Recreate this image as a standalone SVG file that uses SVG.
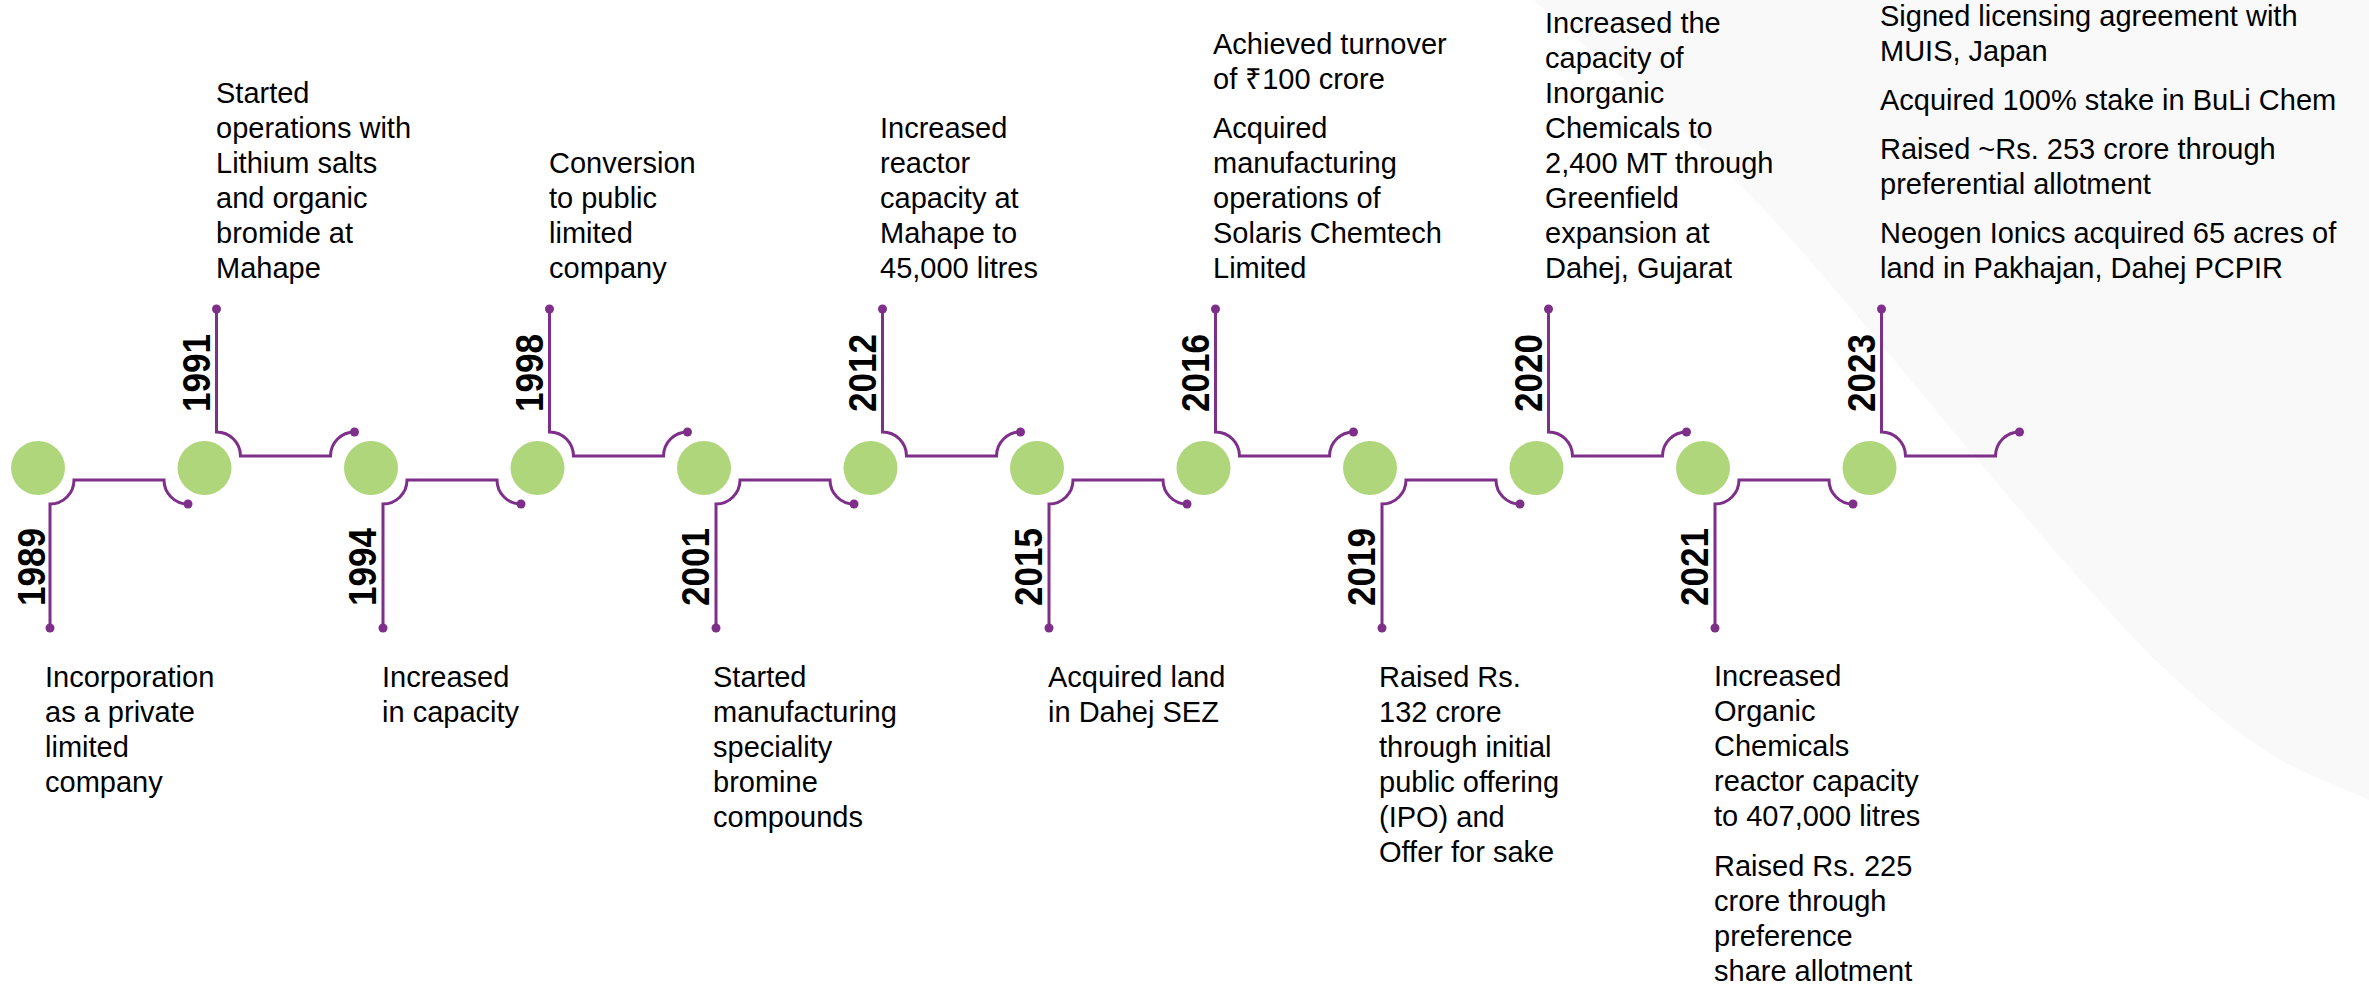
<svg xmlns="http://www.w3.org/2000/svg" width="2369" height="984" viewBox="0 0 2369 984">
<style>
.t{font-family:"Liberation Sans",Arial,sans-serif;font-size:29px;fill:#000}
.y{font-family:"Liberation Sans Narrow","Liberation Sans",Arial,sans-serif;font-size:39px;font-weight:bold;fill:#000}
.c{fill:#b0d67b}
.l{fill:none;stroke:#7e2f8a;stroke-width:3}
.d{fill:#7e2f8a}
</style>
<rect width="2369" height="984" fill="#fff"/>
<path d="M1533 0 C1605 65 1677.3 120 1750 195 C1822.7 270 1915.8 388 1969 450 C2022.2 512 2035.7 529.8 2069 567 C2102.3 604.2 2135.7 642 2169 673 C2202.3 704 2235.7 731.8 2269 753 C2302.3 774.2 2335.7 784.3 2369 800 L2369 0 Z" fill="#f9f9f9"/>
<g id="connectors">
<path class="l" d="M50 628 V504 A24 24 0 0 0 74 480 H164 A24 24 0 0 0 188 504"/>
<path class="l" d="M216.5 309 V432 A24 24 0 0 1 240.5 456 H330.5 A24 24 0 0 1 354.5 432"/>
<path class="l" d="M383 628 V504 A24 24 0 0 0 407 480 H497 A24 24 0 0 0 521 504"/>
<path class="l" d="M549.5 309 V432 A24 24 0 0 1 573.5 456 H663.5 A24 24 0 0 1 687.5 432"/>
<path class="l" d="M716 628 V504 A24 24 0 0 0 740 480 H830 A24 24 0 0 0 854 504"/>
<path class="l" d="M882.5 309 V432 A24 24 0 0 1 906.5 456 H996.5 A24 24 0 0 1 1020.5 432"/>
<path class="l" d="M1049 628 V504 A24 24 0 0 0 1073 480 H1163 A24 24 0 0 0 1187 504"/>
<path class="l" d="M1215.5 309 V432 A24 24 0 0 1 1239.5 456 H1329.5 A24 24 0 0 1 1353.5 432"/>
<path class="l" d="M1382 628 V504 A24 24 0 0 0 1406 480 H1496 A24 24 0 0 0 1520 504"/>
<path class="l" d="M1548.5 309 V432 A24 24 0 0 1 1572.5 456 H1662.5 A24 24 0 0 1 1686.5 432"/>
<path class="l" d="M1715 628 V504 A24 24 0 0 0 1739 480 H1829 A24 24 0 0 0 1853 504"/>
<path class="l" d="M1881.5 309 V432 A24 24 0 0 1 1905.5 456 H1995.5 A24 24 0 0 1 2019.5 432"/>
<g class="d">
<circle cx="50" cy="628" r="4.5"/><circle cx="188" cy="504" r="4.5"/>
<circle cx="216.5" cy="309" r="4.5"/><circle cx="354.5" cy="432" r="4.5"/>
<circle cx="383" cy="628" r="4.5"/><circle cx="521" cy="504" r="4.5"/>
<circle cx="549.5" cy="309" r="4.5"/><circle cx="687.5" cy="432" r="4.5"/>
<circle cx="716" cy="628" r="4.5"/><circle cx="854" cy="504" r="4.5"/>
<circle cx="882.5" cy="309" r="4.5"/><circle cx="1020.5" cy="432" r="4.5"/>
<circle cx="1049" cy="628" r="4.5"/><circle cx="1187" cy="504" r="4.5"/>
<circle cx="1215.5" cy="309" r="4.5"/><circle cx="1353.5" cy="432" r="4.5"/>
<circle cx="1382" cy="628" r="4.5"/><circle cx="1520" cy="504" r="4.5"/>
<circle cx="1548.5" cy="309" r="4.5"/><circle cx="1686.5" cy="432" r="4.5"/>
<circle cx="1715" cy="628" r="4.5"/><circle cx="1853" cy="504" r="4.5"/>
<circle cx="1881.5" cy="309" r="4.5"/><circle cx="2019.5" cy="432" r="4.5"/>
</g>
</g>
<g id="n1989">
<circle class="c" cx="38" cy="468" r="27"/>
<text class="y" transform="translate(45,606) rotate(-90)" textLength="78" lengthAdjust="spacingAndGlyphs">1989</text>
<text class="t" x="45" y="687">Incorporation</text>
<text class="t" x="45" y="722">as a private</text>
<text class="t" x="45" y="757">limited</text>
<text class="t" x="45" y="792">company</text>
</g>
<g id="n1991">
<circle class="c" cx="204.5" cy="468" r="27"/>
<text class="y" transform="translate(209.5,412) rotate(-90)" textLength="78" lengthAdjust="spacingAndGlyphs">1991</text>
<text class="t" x="216" y="103">Started</text>
<text class="t" x="216" y="138">operations with</text>
<text class="t" x="216" y="173">Lithium salts</text>
<text class="t" x="216" y="208">and organic</text>
<text class="t" x="216" y="243">bromide at</text>
<text class="t" x="216" y="278">Mahape</text>
</g>
<g id="n1994">
<circle class="c" cx="371" cy="468" r="27"/>
<text class="y" transform="translate(376,606) rotate(-90)" textLength="78" lengthAdjust="spacingAndGlyphs">1994</text>
<text class="t" x="382" y="687">Increased</text>
<text class="t" x="382" y="722">in capacity</text>
</g>
<g id="n1998">
<circle class="c" cx="537.5" cy="468" r="27"/>
<text class="y" transform="translate(542.5,412) rotate(-90)" textLength="78" lengthAdjust="spacingAndGlyphs">1998</text>
<text class="t" x="549" y="173">Conversion</text>
<text class="t" x="549" y="208">to public</text>
<text class="t" x="549" y="243">limited</text>
<text class="t" x="549" y="278">company</text>
</g>
<g id="n2001">
<circle class="c" cx="704" cy="468" r="27"/>
<text class="y" transform="translate(709,606) rotate(-90)" textLength="78" lengthAdjust="spacingAndGlyphs">2001</text>
<text class="t" x="713" y="687">Started</text>
<text class="t" x="713" y="722">manufacturing</text>
<text class="t" x="713" y="757">speciality</text>
<text class="t" x="713" y="792">bromine</text>
<text class="t" x="713" y="827">compounds</text>
</g>
<g id="n2012">
<circle class="c" cx="870.5" cy="468" r="27"/>
<text class="y" transform="translate(875.5,412) rotate(-90)" textLength="78" lengthAdjust="spacingAndGlyphs">2012</text>
<text class="t" x="880" y="138">Increased</text>
<text class="t" x="880" y="173">reactor</text>
<text class="t" x="880" y="208">capacity at</text>
<text class="t" x="880" y="243">Mahape to</text>
<text class="t" x="880" y="278">45,000 litres</text>
</g>
<g id="n2015">
<circle class="c" cx="1037" cy="468" r="27"/>
<text class="y" transform="translate(1042,606) rotate(-90)" textLength="78" lengthAdjust="spacingAndGlyphs">2015</text>
<text class="t" x="1048" y="687">Acquired land</text>
<text class="t" x="1048" y="722">in Dahej SEZ</text>
</g>
<g id="n2016">
<circle class="c" cx="1203.5" cy="468" r="27"/>
<text class="y" transform="translate(1208.5,412) rotate(-90)" textLength="78" lengthAdjust="spacingAndGlyphs">2016</text>
<text class="t" x="1213" y="54">Achieved turnover</text>
<text class="t" x="1213" y="89">of ₹100 crore</text>
<text class="t" x="1213" y="138">Acquired</text>
<text class="t" x="1213" y="173">manufacturing</text>
<text class="t" x="1213" y="208">operations of</text>
<text class="t" x="1213" y="243">Solaris Chemtech</text>
<text class="t" x="1213" y="278">Limited</text>
</g>
<g id="n2019">
<circle class="c" cx="1370" cy="468" r="27"/>
<text class="y" transform="translate(1375,606) rotate(-90)" textLength="78" lengthAdjust="spacingAndGlyphs">2019</text>
<text class="t" x="1379" y="687">Raised Rs.</text>
<text class="t" x="1379" y="722">132 crore</text>
<text class="t" x="1379" y="757">through initial</text>
<text class="t" x="1379" y="792">public offering</text>
<text class="t" x="1379" y="827">(IPO) and</text>
<text class="t" x="1379" y="862">Offer for sake</text>
</g>
<g id="n2020">
<circle class="c" cx="1536.5" cy="468" r="27"/>
<text class="y" transform="translate(1541.5,412) rotate(-90)" textLength="78" lengthAdjust="spacingAndGlyphs">2020</text>
<text class="t" x="1545" y="33">Increased the</text>
<text class="t" x="1545" y="68">capacity of</text>
<text class="t" x="1545" y="103">Inorganic</text>
<text class="t" x="1545" y="138">Chemicals to</text>
<text class="t" x="1545" y="173">2,400 MT through</text>
<text class="t" x="1545" y="208">Greenfield</text>
<text class="t" x="1545" y="243">expansion at</text>
<text class="t" x="1545" y="278">Dahej, Gujarat</text>
</g>
<g id="n2021">
<circle class="c" cx="1703" cy="468" r="27"/>
<text class="y" transform="translate(1708,606) rotate(-90)" textLength="78" lengthAdjust="spacingAndGlyphs">2021</text>
<text class="t" x="1714" y="686">Increased</text>
<text class="t" x="1714" y="721">Organic</text>
<text class="t" x="1714" y="756">Chemicals</text>
<text class="t" x="1714" y="791">reactor capacity</text>
<text class="t" x="1714" y="826">to 407,000 litres</text>
<text class="t" x="1714" y="876">Raised Rs. 225</text>
<text class="t" x="1714" y="911">crore through</text>
<text class="t" x="1714" y="946">preference</text>
<text class="t" x="1714" y="981">share allotment</text>
</g>
<g id="n2023">
<circle class="c" cx="1869.5" cy="468" r="27"/>
<text class="y" transform="translate(1874.5,412) rotate(-90)" textLength="78" lengthAdjust="spacingAndGlyphs">2023</text>
<text class="t" x="1880" y="26">Signed licensing agreement with</text>
<text class="t" x="1880" y="61">MUIS, Japan</text>
<text class="t" x="1880" y="110">Acquired 100% stake in BuLi Chem</text>
<text class="t" x="1880" y="159">Raised ~Rs. 253 crore through</text>
<text class="t" x="1880" y="194">preferential allotment</text>
<text class="t" x="1880" y="243">Neogen Ionics acquired 65 acres of</text>
<text class="t" x="1880" y="278">land in Pakhajan, Dahej PCPIR</text>
</g>
</svg>
